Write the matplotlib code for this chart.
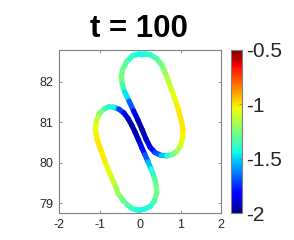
import numpy as np
import matplotlib.pyplot as plt
from matplotlib.collections import LineCollection

plt.rcParams["font.family"] = ["Liberation Sans", "DejaVu Sans"]
plt.rcParams["axes.unicode_minus"] = False

TITLE = "t = 100"
CLIM = (-2.0, -0.5)
X_TICKS = [-2, -1, 0, 1, 2]
Y_TICKS = [79, 80, 81, 82]
CBAR_TICKS = [-2, -1.5, -1, -0.5]

# upper loop (closed curve)
UPPER_X = [0.00, -0.18, -0.33, -0.43, -0.46, -0.44, -0.38, -0.27, -0.16, -0.05,
           0.05, 0.15, 0.25, 0.37, 0.52, 0.66, 0.80, 0.91, 1.00, 1.05,
           1.06, 1.03, 0.95, 0.87, 0.78, 0.70, 0.62, 0.53, 0.41, 0.25, 0.10]
UPPER_Y = [82.69, 82.64, 82.49, 82.30, 82.12, 81.95, 81.75, 81.52, 81.28, 81.05,
           80.82, 80.58, 80.38, 80.25, 80.18, 80.17, 80.20, 80.28, 80.42, 80.60,
           80.80, 81.00, 81.30, 81.55, 81.80, 82.02, 82.22, 82.42, 82.57, 82.66, 82.69]
UPPER_V = [-1.45, -1.42, -1.35, -1.28, -1.25, -1.28, -1.40, -1.55, -1.80, -1.92,
           -1.95, -1.92, -1.85, -1.78, -1.62, -1.45, -1.32, -1.22, -1.12, -1.05,
           -1.00, -1.00, -1.00, -1.02, -1.08, -1.12, -1.18, -1.25, -1.32, -1.38, -1.42]

# lower loop
LOWER_X = [-0.66, -0.52, -0.40, -0.29, -0.20, -0.12, -0.04, 0.04, 0.12, 0.20,
           0.27, 0.35, 0.40, 0.41, 0.36, 0.25, 0.10, -0.04, -0.18, -0.30,
           -0.42, -0.54, -0.64, -0.74, -0.86, -0.97, -1.06, -1.10, -1.08, -1.00,
           -0.88, -0.76]
LOWER_Y = [81.37, 81.32, 81.23, 81.08, 80.92, 80.75, 80.57, 80.38, 80.20, 80.02,
           79.85, 79.65, 79.45, 79.25, 79.06, 78.92, 78.85, 78.83, 78.86, 78.95,
           79.07, 79.24, 79.50, 79.72, 80.02, 80.32, 80.58, 80.80, 81.02, 81.22,
           81.33, 81.38]
LOWER_V = [-1.45, -1.65, -1.80, -1.90, -1.95, -1.95, -1.92, -1.85, -1.75, -1.60,
           -1.48, -1.35, -1.28, -1.25, -1.30, -1.38, -1.43, -1.45, -1.42, -1.35,
           -1.28, -1.22, -1.15, -1.08, -1.03, -1.00, -1.00, -1.02, -1.08, -1.18,
           -1.30, -1.40]


def loop_segments(xs, ys, vs):
    pts = np.column_stack([xs + xs[:1], ys + ys[:1]])
    segs = np.stack([pts[:-1], pts[1:]], axis=1)
    vals = np.array(vs + vs[:1])
    return segs, 0.5 * (vals[:-1] + vals[1:])


def main():
    fig = plt.figure(figsize=(2.94, 2.40), dpi=100)
    ax = fig.add_axes([0.2007, 0.1111, 0.5510, 0.6806])
    cax = fig.add_axes([0.7857, 0.1111, 0.0374, 0.6806])

    segs_u, c_u = loop_segments(UPPER_X, UPPER_Y, UPPER_V)
    segs_l, c_l = loop_segments(LOWER_X, LOWER_Y, LOWER_V)
    lc = LineCollection(np.concatenate([segs_u, segs_l]), cmap="jet",
                        linewidths=3.8, capstyle="round", joinstyle="round")
    lc.set_array(np.concatenate([c_u, c_l]))
    lc.set_clim(*CLIM)
    ax.add_collection(lc)

    ax.set_xlim(-2, 2)
    ax.set_ylim(78.75, 82.78)
    ax.set_xticks(X_TICKS)
    ax.set_yticks(Y_TICKS)
    ax.set_xticklabels([str(t) for t in X_TICKS])
    ax.set_yticklabels([str(t) for t in Y_TICKS])
    ax.tick_params(direction="in", length=2, width=0.6, color="#808080",
                   top=True, right=True, labelsize=9, labelcolor="#262626", pad=4)
    for s in ax.spines.values():
        s.set_color("#808080")
        s.set_linewidth(0.8)
    fig.text(0.473, 1 - 36.7 / 240, TITLE, fontsize=22.5, fontweight="bold",
             ha="center", va="baseline")

    cb = fig.colorbar(lc, cax=cax)
    cb.set_ticks(CBAR_TICKS)
    cb.set_ticklabels(["%g" % t for t in CBAR_TICKS])
    cb.ax.tick_params(direction="in", length=2, width=0.6, color="#808080",
                      labelsize=15, labelcolor="#262626", pad=3)
    cb.outline.set_edgecolor("#808080")
    cb.outline.set_linewidth(0.8)

    fig.savefig("out.png", dpi=100)


if __name__ == "__main__":
    main()
